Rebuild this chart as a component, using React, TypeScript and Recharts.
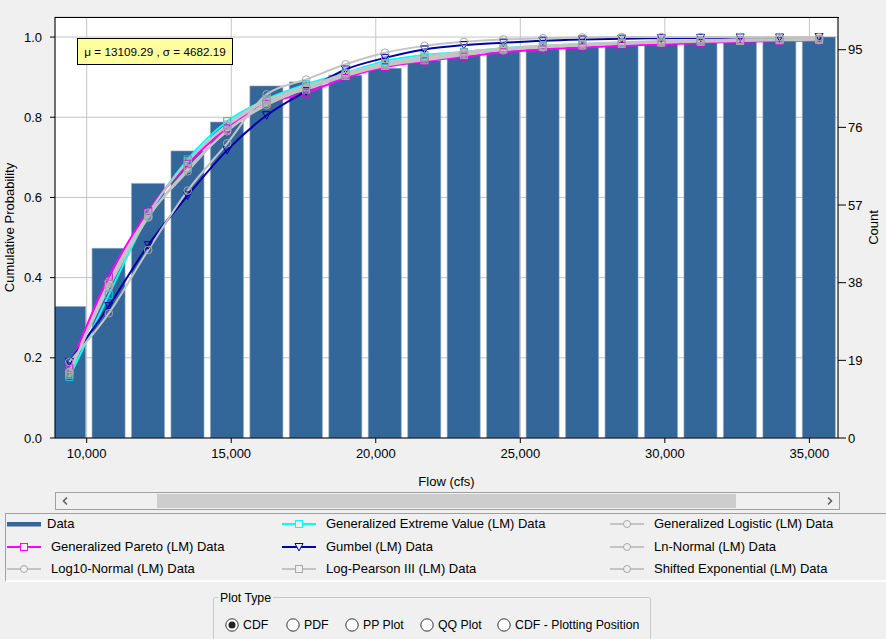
import React from 'react';
import { ComposedChart, Bar, Line, XAxis, YAxis, CartesianGrid } from 'recharts';

// bin centres (cfs)
const flow = [
  9400, 10765, 12130, 13495, 14860, 16225, 17590, 18955, 20320, 21685,
  23050, 24415, 25780, 27145, 28510, 29875, 31240, 32605, 33970, 35335,
];

// empirical cumulative probability (bars)
const empirical = [
  0.328, 0.473, 0.635, 0.716, 0.788, 0.878, 0.888, 0.905, 0.922, 0.942,
  0.954, 0.967, 0.975, 0.974, 0.979, 0.984, 0.986, 0.989, 0.99, 1.0,
];

const gev = [0.152, 0.357, 0.555, 0.695, 0.79, 0.845, 0.882, 0.911, 0.94, 0.955, 0.963, 0.972, 0.978, 0.982, 0.985, 0.988, 0.99, 0.992, 0.993, 0.994];
const glo = [0.172, 0.39, 0.562, 0.688, 0.778, 0.84, 0.879, 0.906, 0.93, 0.946, 0.958, 0.967, 0.974, 0.979, 0.983, 0.986, 0.988, 0.99, 0.991, 0.992];
const gpa = [0.175, 0.402, 0.566, 0.684, 0.772, 0.833, 0.861, 0.898, 0.925, 0.94, 0.951, 0.962, 0.969, 0.974, 0.978, 0.982, 0.985, 0.988, 0.99, 0.992];
const gumbel = [0.19, 0.329, 0.481, 0.605, 0.718, 0.805, 0.865, 0.919, 0.948, 0.969, 0.98, 0.986, 0.991, 0.994, 0.996, 0.997, 0.998, 0.999, 0.999, 1.0];
const lnNormal = [0.165, 0.378, 0.552, 0.665, 0.768, 0.83, 0.872, 0.908, 0.933, 0.95, 0.961, 0.97, 0.977, 0.982, 0.986, 0.989, 0.991, 0.993, 0.994, 0.995];
const log10Normal = [0.162, 0.375, 0.55, 0.672, 0.765, 0.835, 0.875, 0.91, 0.935, 0.952, 0.963, 0.972, 0.978, 0.983, 0.987, 0.99, 0.992, 0.993, 0.994, 0.995];
const logPearson = [0.158, 0.385, 0.56, 0.69, 0.782, 0.844, 0.869, 0.903, 0.928, 0.942, 0.955, 0.969, 0.975, 0.979, 0.983, 0.986, 0.988, 0.99, 0.992, 0.993];
const shiftedExp = [0.19, 0.311, 0.469, 0.617, 0.735, 0.857, 0.894, 0.932, 0.961, 0.978, 0.988, 0.994, 0.997, 0.999, 1.0, 1.0, 1.0, 1.0, 1.0, 1.0];

const xTicks = [10000, 15000, 20000, 25000, 30000, 35000];
const probTicks = [0, 0.2, 0.4, 0.6, 0.8, 1.0];
const countTicks = [0, 19, 38, 57, 76, 95];
const plotTypes = ['CDF', 'PDF', 'PP Plot', 'QQ Plot', 'CDF - Plotting Position'];

const data = flow.map((x, i) => ({
  x,
  data: empirical[i],
  gev: gev[i],
  glo: glo[i],
  gpa: gpa[i],
  gumbel: gumbel[i],
  lnNormal: lnNormal[i],
  log10Normal: log10Normal[i],
  logPearson: logPearson[i],
  shiftedExp: shiftedExp[i],
}));

const FONT = '"Liberation Sans", Arial, sans-serif';
const BAR = '#336699';
const GRAY = '#c4c4c4';
const GRAY_MARK = '#a8a8a8';

const square = (color: string) => (p: any) => {
  if (p.cx == null || p.cy == null) return <g key={`s${p.index}`} />;
  return <rect key={`s${p.index}`} x={p.cx - 3.5} y={p.cy - 3.5} width={7} height={7} fill="none" stroke={color} strokeWidth={1} />;
};
const circle = (color: string) => (p: any) => {
  if (p.cx == null || p.cy == null) return <g key={`c${p.index}`} />;
  return <circle key={`c${p.index}`} cx={p.cx} cy={p.cy} r={3.8} fill="none" stroke={color} strokeWidth={1} />;
};
const triangle = (color: string) => (p: any) => {
  if (p.cx == null || p.cy == null) return <g key={`t${p.index}`} />;
  const { cx, cy } = p;
  return <polygon key={`t${p.index}`} points={`${cx - 4},${cy - 3.5} ${cx + 4},${cy - 3.5} ${cx},${cy + 4}`} fill="none" stroke={color} strokeWidth={1} />;
};

const series = [
  { key: 'gev', color: '#00ffff', dot: square('#00c8d8') },
  { key: 'glo', color: GRAY, dot: circle(GRAY_MARK) },
  { key: 'gpa', color: '#ff00ff', dot: square('#e000e0') },
  { key: 'gumbel', color: '#0000a8', dot: triangle('#0000a8') },
  { key: 'lnNormal', color: GRAY, dot: circle(GRAY_MARK) },
  { key: 'log10Normal', color: GRAY, dot: circle(GRAY_MARK) },
  { key: 'logPearson', color: GRAY, dot: square(GRAY_MARK) },
  { key: 'shiftedExp', color: GRAY, dot: circle(GRAY_MARK) },
];

type LegendItem = { label: string; kind: 'bar' | 'square' | 'circle' | 'triangle'; color: string; x: number; tx: number; y: number };
const legendItems: LegendItem[] = [
  { label: 'Data', kind: 'bar', color: BAR, x: 7, tx: 47, y: 524 },
  { label: 'Generalized Pareto (LM) Data', kind: 'square', color: '#ff00ff', x: 7, tx: 51, y: 546.5 },
  { label: 'Log10-Normal (LM) Data', kind: 'circle', color: GRAY, x: 7, tx: 51, y: 568.5 },
  { label: 'Generalized Extreme Value (LM) Data', kind: 'square', color: '#00ffff', x: 282, tx: 326, y: 524 },
  { label: 'Gumbel (LM) Data', kind: 'triangle', color: '#0000a8', x: 282, tx: 326, y: 546.5 },
  { label: 'Log-Pearson III (LM) Data', kind: 'square', color: GRAY, x: 282, tx: 326, y: 568.5 },
  { label: 'Generalized Logistic (LM) Data', kind: 'circle', color: GRAY, x: 610, tx: 654, y: 524 },
  { label: 'Ln-Normal (LM) Data', kind: 'circle', color: GRAY, x: 610, tx: 654, y: 546.5 },
  { label: 'Shifted Exponential (LM) Data', kind: 'circle', color: GRAY, x: 610, tx: 654, y: 568.5 },
];

function LegendIcon({ item }: { item: LegendItem }) {
  const w = 34;
  const h = 12;
  const m = w / 2;
  return (
    <svg width={w} height={h} style={{ position: 'absolute', left: item.x, top: item.y - h / 2 }}>
      {item.kind === 'bar' ? (
        <rect x={0} y={4} width={w} height={4.5} fill={item.color} />
      ) : (
        <line x1={0} x2={w} y1={6} y2={6} stroke={item.color} strokeWidth={2} />
      )}
      {item.kind === 'square' && <rect x={m - 3.5} y={2.5} width={7} height={7} fill="#f0f0f0" stroke={item.color === GRAY ? GRAY_MARK : item.color} strokeWidth={1} />}
      {item.kind === 'circle' && <circle cx={m} cy={6} r={3.5} fill="#f0f0f0" stroke={GRAY_MARK} strokeWidth={1} />}
      {item.kind === 'triangle' && <polygon points={`${m - 4},2.5 ${m + 4},2.5 ${m},10`} fill="#f0f0f0" stroke={item.color} strokeWidth={1} />}
    </svg>
  );
}

const radioX = [232, 293, 352, 427, 504];

export default function App() {
  return (
    <div style={{ position: 'absolute', left: 0, top: 0, width: 886, height: 639, background: '#f0f0f0', fontFamily: FONT, overflow: 'hidden' }}>
      <style>{`body{margin:0}`}</style>
      <ComposedChart
        width={886}
        height={490}
        data={data}
        margin={{ top: 17, right: 0, bottom: 0, left: 0 }}
        style={{ position: 'absolute', left: 0, top: 0 }}
      >
        <CartesianGrid yAxisId="left" stroke={GRAY} fill="#ffffff" strokeWidth={1} />
        <XAxis
          dataKey="x"
          type="number"
          domain={[8904, 35990]}
          ticks={xTicks}
          allowDataOverflow
          height={52}
          tickSize={5}
          tickMargin={6}
          tickFormatter={(v: number) => v.toLocaleString('en-US')}
          tick={{ fill: '#000', fontSize: 13, fontFamily: FONT }}
          axisLine={{ stroke: '#000' }}
          tickLine={{ stroke: '#000' }}
          label={{ value: 'Flow (cfs)', position: 'insideBottom', offset: 4, fill: '#000', fontSize: 13, fontFamily: FONT }}
        />
        <YAxis
          yAxisId="left"
          domain={[0, 1.05]}
          ticks={probTicks}
          allowDataOverflow
          width={55}
          tickSize={5}
          tickMargin={8}
          tickFormatter={(v: number) => v.toFixed(1)}
          tick={{ fill: '#000', fontSize: 13, fontFamily: FONT }}
          axisLine={{ stroke: '#000' }}
          tickLine={{ stroke: '#000' }}
          label={{ value: 'Cumulative Probability', angle: -90, position: 'insideLeft', offset: 9, fill: '#000', fontSize: 13, fontFamily: FONT, style: { textAnchor: 'middle' } }}
        />
        <YAxis
          yAxisId="right"
          orientation="right"
          domain={[0, 103]}
          ticks={countTicks}
          allowDataOverflow
          width={48}
          tickSize={8}
          tickMargin={2}
          tick={{ fill: '#000', fontSize: 13, fontFamily: FONT }}
          axisLine={{ stroke: '#000' }}
          tickLine={{ stroke: '#000' }}
          label={{ value: 'Count', angle: -90, position: 'insideRight', offset: 13, fill: '#000', fontSize: 13, fontFamily: FONT, style: { textAnchor: 'middle' } }}
        />
        <Bar yAxisId="left" dataKey="data" fill={BAR} stroke="#8fa5bd" strokeWidth={0.6} barSize={33} isAnimationActive={false} />
        {series.map((s) => (
          <Line
            key={s.key}
            yAxisId="left"
            dataKey={s.key}
            type="monotone"
            stroke={s.color}
            strokeWidth={2}
            dot={s.dot}
            activeDot={false}
            isAnimationActive={false}
          />
        ))}
      </ComposedChart>

      {/* top border of the plot frame */}
      <div style={{ position: 'absolute', left: 55, top: 17, width: 784, height: 1, background: '#000' }} />

      {/* stats box */}
      <div
        style={{
          position: 'absolute', left: 77, top: 38, width: 156, height: 27, boxSizing: 'border-box',
          background: '#ffffa0', border: '1px solid #000', fontSize: 11.7, lineHeight: '25px', textAlign: 'center',
          color: '#000', whiteSpace: 'nowrap',
        }}
      >
        μ = 13109.29 , σ = 4682.19
      </div>

      {/* scrollbar */}
      <div style={{ position: 'absolute', left: 55, top: 492, width: 785, height: 18, boxSizing: 'border-box', border: '1px solid #a0a0a0', background: '#f0f0f0' }}>
        <div style={{ position: 'absolute', left: 101, top: 1, width: 579, height: 14, background: '#cdcdcd' }} />
        <svg width={10} height={10} style={{ position: 'absolute', left: 5, top: 3 }}>
          <polyline points="6,1.5 2.5,5 6,8.5" fill="none" stroke="#606060" strokeWidth={1.6} />
        </svg>
        <svg width={10} height={10} style={{ position: 'absolute', left: 769, top: 3 }}>
          <polyline points="3,1.5 6.5,5 3,8.5" fill="none" stroke="#606060" strokeWidth={1.6} />
        </svg>
      </div>

      {/* legend */}
      <div style={{ position: 'absolute', left: 5, top: 513, width: 881, height: 69, boxSizing: 'border-box', borderTop: '1px solid #a0a0a0', borderLeft: '1px solid #a0a0a0', borderBottom: '2px solid #ffffff' }} />
      {legendItems.map((it) => (
        <React.Fragment key={it.label}>
          <LegendIcon item={it} />
          <div style={{ position: 'absolute', left: it.tx, top: it.y - 8, fontSize: 13, lineHeight: '16px', color: '#000', whiteSpace: 'nowrap' }}>{it.label}</div>
        </React.Fragment>
      ))}

      {/* plot type group */}
      <div style={{ position: 'absolute', left: 213, top: 597, width: 438, height: 60, boxSizing: 'border-box', border: '1px solid #c8c8c8', borderRadius: 2 }} />
      <div style={{ position: 'absolute', left: 218, top: 590, padding: '0 2px', background: '#f0f0f0', fontSize: 12.3, lineHeight: '16px', color: '#000' }}>Plot Type</div>
      {plotTypes.map((label, i) => (
        <React.Fragment key={label}>
          <svg width={16} height={16} style={{ position: 'absolute', left: radioX[i] - 8, top: 617 }}>
            <circle cx={8} cy={8} r={6.2} fill="#ffffff" stroke="#333" strokeWidth={1} />
            {i === 0 && <circle cx={8} cy={8} r={3.5} fill="#222" />}
          </svg>
          <div style={{ position: 'absolute', left: radioX[i] + 11, top: 617, fontSize: 12.3, lineHeight: '16px', color: '#000', whiteSpace: 'nowrap' }}>{label}</div>
        </React.Fragment>
      ))}
    </div>
  );
}
